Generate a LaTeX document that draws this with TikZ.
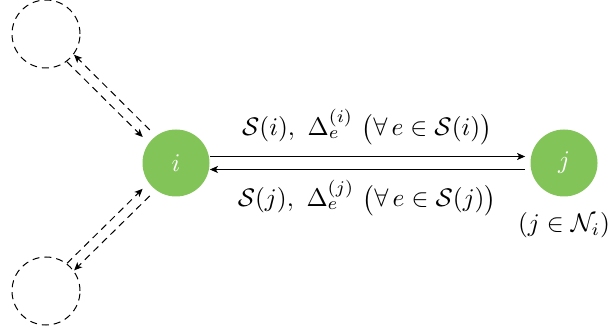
\documentclass[tikz,border=0pt]{standalone}
\usetikzlibrary{arrows.meta,calc}
\definecolor{nodegreen}{RGB}{130,196,88}
\begin{document}
\begin{tikzpicture}[x=0.5pt,y=-0.5pt,
  agent/.style={circle,fill=nodegreen,minimum size=33.5pt,inner sep=0pt,text=white},
  ghost/.style={circle,draw,dash pattern=on 3.5pt off 2.5pt,minimum size=34pt,inner sep=0pt,line width=0.5pt},
  msg/.style={line width=0.6pt,-{Stealth[length=4pt,width=3.5pt,inset=1pt]}},
  dmsg/.style={line width=0.5pt,dash pattern=on 3.5pt off 2.5pt,-{Stealth[length=4pt,width=3.5pt,inset=1pt]}},
  lab/.style={scale=1.27}]
\useasboundingbox (0,0) rectangle (613,335);
\node[agent] (i) at (176,163) {\scalebox{1.27}{$i$}};
\node[agent] (j) at (564,163) {\scalebox{1.27}{$j$}};
\node[ghost] (t) at (46,34) {};
\node[ghost] (b) at (46,291) {};
\draw[msg, shorten >=2.5pt] ([yshift=3.25pt]i.east) -- ([yshift=3.25pt]j.west);
\draw[msg, shorten <=2.5pt] ([yshift=-3.25pt]j.west) -- ([yshift=-3.25pt]i.east);
\draw[dmsg, shorten <=4pt, transform canvas={shift={(1.77pt,1.77pt)}}] (i) -- (t);
\draw[dmsg, shorten >=4pt, transform canvas={shift={(-1.77pt,-1.77pt)}}] (t) -- (i);
\draw[dmsg, shorten >=4pt, transform canvas={shift={(-1.77pt,1.77pt)}}] (b) -- (i);
\draw[dmsg, shorten <=4pt, transform canvas={shift={(1.77pt,-1.77pt)}}] (i) -- (b);
\node[lab] (lt) at (367,127) {$\mathcal{S}(i),\ \Delta_e^{(i)}\ \big(\forall\, e\in\mathcal{S}(i)\big)$};
\node[lab] (lb) at (367,198) {$\mathcal{S}(j),\ \Delta_e^{(j)}\ \big(\forall\, e\in\mathcal{S}(j)\big)$};
\node[lab] (lj) at (564,225) {$(j\in\mathcal{N}_i)$};
\end{tikzpicture}
\end{document}
